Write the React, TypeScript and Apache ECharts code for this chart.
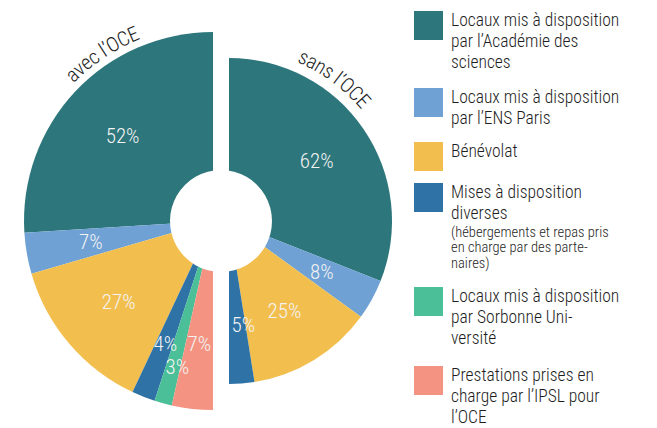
import React, { useEffect, useRef } from "react";
import * as echarts from "echarts";

// ---- data ----
const categories = [
  "Locaux mis à disposition par l’Académie des sciences",
  "Locaux mis à disposition par l’ENS Paris",
  "Bénévolat",
  "Mises à disposition diverses",
  "Locaux mis à disposition par Sorbonne Université",
  "Prestations prises en charge par l’IPSL pour l’OCE",
];
const legendLines = [
  ["Locaux mis à disposition", "par l’Académie des", "sciences"],
  ["Locaux mis à disposition", "par l’ENS Paris"],
  ["Bénévolat"],
  ["Mises à disposition", "diverses"],
  ["Locaux mis à disposition", "par Sorbonne Uni-", "versité"],
  ["Prestations prises en", "charge par l’IPSL pour", "l’OCE"],
];
const legendNotes = [[], [], [], ["(hébergements et repas pris", "en charge par des parte-", "naires)"], [], []];
const colors = ["#2d767b", "#6fa1d4", "#f2bf4f", "#2f72a6", "#4bbf97", "#f49381"];
const avecValues = [52, 7, 27, 4, 3, 7];
const sansValues = [62, 8, 25, 5];
const titles = ["avec l’OCE", "sans l’OCE"];

// ---- layout ----
const FONT = "'Roboto Condensed', 'Liberation Sans Narrow', 'Arial Narrow', 'DejaVu Sans Condensed', sans-serif";
const LEFT = { cx: 213, cy: 221, r: 189, rLabel: 53, titleR: 203, titleDeg: 123.5 };
const RIGHT = { cx: 229, cy: 221, r: 163, rLabel: 43, titleR: 180, titleDeg: 53.5 };
const HOLE = { cx: 221, cy: 221, r: 51 };
const legendTops = [11, 88, 142, 183, 287, 366];
const avecLabelOffsets: Record<number, number[]> = { 3: [-2, 8], 4: [-3, 26] };
const sansLabelOffsets: Record<number, number[]> = { 3: [6, -2] };

function halfData(values: number[], transparent: boolean, offsets: Record<number, number[]>) {
  const total = values.reduce((a, b) => a + b, 0);
  const data: any[] = values.map((v, i) => ({
    name: categories[i],
    value: v,
    itemStyle: { color: transparent ? "rgba(0,0,0,0)" : colors[i] },
    label: offsets[i] ? { offset: offsets[i] } : undefined,
  }));
  data.push({
    name: "_filler",
    value: total,
    itemStyle: { color: "rgba(0,0,0,0)" },
    label: { show: false },
  });
  return data;
}

function pieSeries(values: number[], g: any, clockwise: boolean, offsets: Record<number, number[]>) {
  const base = {
    type: "pie",
    center: [g.cx, g.cy],
    startAngle: 90,
    clockwise,
    silent: true,
    avoidLabelOverlap: false,
    labelLine: { show: false },
    emphasis: { disabled: true },
  };
  return [
    {
      ...base,
      radius: [0, g.r],
      itemStyle: { borderWidth: 0 },
      label: { show: false },
      data: halfData(values, false, {}),
      z: 2,
    },
    {
      ...base,
      radius: [g.rLabel, g.r],
      itemStyle: { borderWidth: 0 },
      label: {
        show: true,
        position: "inside",
        formatter: (p: any) => `${p.value}%`,
        color: "#f3f3f3",
        fontSize: 21,
        fontWeight: 300,
        fontFamily: FONT,
      },
      data: halfData(values, true, offsets),
      z: 3,
    },
  ];
}

function arcText(text: string, cx: number, cy: number, r: number, centerDeg: number, fontSize: number, color: string) {
  const ctx = document.createElement("canvas").getContext("2d")!;
  ctx.font = `300 ${fontSize}px ${FONT}`;
  const chars = Array.from(text);
  const widths = chars.map((c) => ctx.measureText(c).width);
  const total = widths.reduce((a, b) => a + b, 0);
  let s = 0;
  const els: any[] = [];
  chars.forEach((c, i) => {
    const mid = s + widths[i] / 2;
    s += widths[i];
    const th = (centerDeg * Math.PI) / 180 + (total / 2 - mid) / r;
    els.push({
      type: "text",
      x: cx + r * Math.cos(th),
      y: cy - r * Math.sin(th),
      rotation: th - Math.PI / 2,
      z: 100,
      silent: true,
      style: { text: c, x: 0, y: 0, align: "center", verticalAlign: "middle", fontSize, fontWeight: 300, fontFamily: FONT, fill: color },
    });
  });
  return els;
}

function legendGraphics() {
  const els: any[] = [];
  legendLines.forEach((lines, i) => {
    const top = legendTops[i];
    els.push({ type: "rect", shape: { x: 414, y: top, width: 29, height: 29 }, style: { fill: colors[i] }, z: 100, silent: true });
    els.push({
      type: "text",
      x: 451,
      y: top - 1,
      z: 100,
      silent: true,
      style: { text: lines.join("\n"), fontSize: 17.5, fontWeight: 300, lineHeight: 20.7, fontFamily: FONT, fill: "#1e1e1e", align: "left", verticalAlign: "top" },
    });
    if (legendNotes[i].length) {
      els.push({
        type: "text",
        x: 451,
        y: top + lines.length * 20.7,
        z: 100,
        silent: true,
        style: { text: legendNotes[i].join("\n"), fontSize: 14.5, fontWeight: 300, lineHeight: 15.6, fontFamily: FONT, fill: "#1e1e1e", align: "left", verticalAlign: "top" },
      });
    }
  });
  return els;
}

export default function App() {
  const ref = useRef<HTMLDivElement>(null);
  useEffect(() => {
    if (!ref.current) return;
    const chart = echarts.init(ref.current, undefined, { renderer: "svg" });
    chart.setOption({
      animation: false,
      backgroundColor: "#ffffff",
      series: [
        ...pieSeries(avecValues, LEFT, false, avecLabelOffsets),
        ...pieSeries(sansValues, RIGHT, true, sansLabelOffsets),
      ],
      graphic: [
        { type: "circle", shape: { cx: HOLE.cx, cy: HOLE.cy, r: HOLE.r }, style: { fill: "#ffffff" }, z: 50, silent: true },
        ...arcText(titles[0], LEFT.cx, LEFT.cy, LEFT.titleR, LEFT.titleDeg, 20.5, "#1e1e1e"),
        ...arcText(titles[1], RIGHT.cx, RIGHT.cy, RIGHT.titleR, RIGHT.titleDeg, 20.5, "#1e1e1e"),
        ...legendGraphics(),
      ],
    });
    return () => chart.dispose();
  }, []);
  return <div ref={ref} style={{ position: "absolute", left: 0, top: 0, width: 657, height: 428 }} />;
}
